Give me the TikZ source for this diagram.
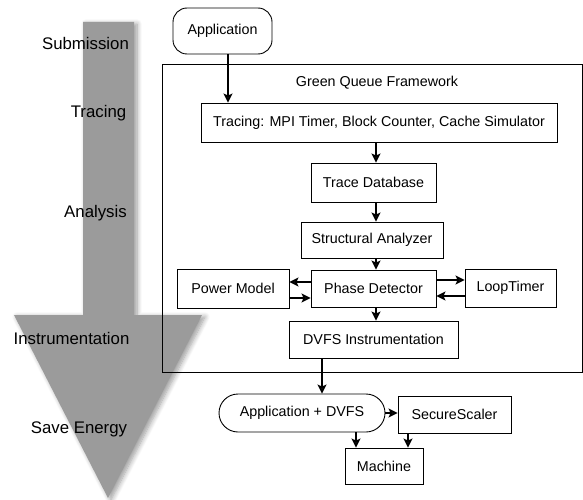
\documentclass[tikz,border=0pt]{standalone}
\usepackage{fontspec}
\setmainfont{Liberation Sans}
\usetikzlibrary{arrows.meta,shadows.blur}
\definecolor{arrowgray}{RGB}{155,155,155}
\tikzset{
  box/.style={draw, line width=0.9pt, inner sep=0pt, font=\fontsize{14.3}{17}\selectfont},
  rbox/.style={box, rounded corners=14pt},
  arr/.style={line width=1.7pt, -{Stealth[length=9pt,width=9pt,inset=2pt]}},
  lbl/.style={font=\fontsize{16.8}{19}\selectfont, inner sep=0pt},
}
\begin{document}
\begin{tikzpicture}[x=1pt,y=-1pt]
\useasboundingbox (0,0) rectangle (583,500);
% big gray arrow
\fill[arrowgray, blur shadow={shadow xshift=3pt, shadow yshift=-2pt, shadow blur steps=8, shadow blur radius=5pt, shadow opacity=40}]
  (83,22) -- (134,22) -- (134,315) -- (202,315) -- (108,498) -- (14,315) -- (83,315) -- cycle;
% phase labels
\node[lbl] (lsub) at (85.5,43) {Submission};
\node[lbl] (ltr) at (98.5,113) {Tracing};
\node[lbl] (lan) at (95.5,213) {Analysis};
\node[lbl] (lins) at (71.5,338) {Instrumentation};
\node[lbl] (lsave) at (79,429) {Save Energy};
% framework
\node[draw, line width=0.9pt, minimum width=420pt, minimum height=308pt, inner sep=0pt] (frame) at (372,218) {};
\node[font=\fontsize{14.3}{17}\selectfont, inner sep=0pt] (ftitle) at (377,83) {Green Queue Framework};
% boxes
\node[rbox, minimum width=99pt, minimum height=46pt] (app) at (222.5,31) {Application};
\node[box, minimum width=356pt, minimum height=39pt] (trc) at (379,122.5) {Tracing: MPI Timer, Block Counter, Cache Simulator};
\node[box, minimum width=125pt, minimum height=39pt] (tdb) at (373.5,182.5) {Trace Database};
\node[box, minimum width=142pt, minimum height=36pt] (sa) at (372,240) {Structural Analyzer};
\node[box, minimum width=112pt, minimum height=39pt] (pm) at (233,288.5) {Power Model};
\node[box, minimum width=125pt, minimum height=37pt] (pd) at (373.5,288.5) {Phase Detector};
\node[box, minimum width=91pt, minimum height=38pt] (lt) at (510.5,288) {LoopTimer};
\node[box, minimum width=169pt, minimum height=37pt] (dvfs) at (373.5,339.5) {DVFS Instrumentation};
\node[box, rounded corners=19pt, minimum width=166pt, minimum height=38pt] (appd) at (302,413) {Application + DVFS};
\node[box, minimum width=113pt, minimum height=37pt] (ss) at (454.5,414.5) {SecureScaler};
\node[box, minimum width=78pt, minimum height=36pt] (mach) at (384,466) {Machine};
% connector x positions
\coordinate (xa) at (228,0);
\coordinate (xm) at (376,0);
\coordinate (xd) at (322,0);
\coordinate (xm1) at (356,0);
\coordinate (xm2) at (408,0);
\coordinate (y1) at (0,282);
\coordinate (y2) at (0,298);
\coordinate (y3) at (0,280);
\coordinate (y4) at (0,296);
\coordinate (y5) at (0,413);
% connectors
\draw[arr] (app.south -| xa) -- (trc.north -| xa);
\draw[arr] (trc.south -| xm) -- (tdb.north -| xm);
\draw[arr] (tdb.south -| xm) -- (sa.north -| xm);
\draw[arr] (sa.south -| xm) -- (pd.north -| xm);
\draw[arr] (pd.south -| xm) -- (dvfs.north -| xm);
\draw[arr] (pd.west |- y1) -- (pm.east |- y1);
\draw[arr] (pm.east |- y2) -- (pd.west |- y2);
\draw[arr] (pd.east |- y3) -- (lt.west |- y3);
\draw[arr] (lt.west |- y4) -- (pd.east |- y4);
\draw[arr] (dvfs.south -| xd) -- (appd.north -| xd);
\draw[arr] (appd.east |- y5) -- (ss.west |- y5);
\draw[arr] (appd.south -| xm1) -- (mach.north -| xm1);
\draw[arr] (ss.south -| xm2) -- (mach.north -| xm2);
\end{tikzpicture}
\end{document}
